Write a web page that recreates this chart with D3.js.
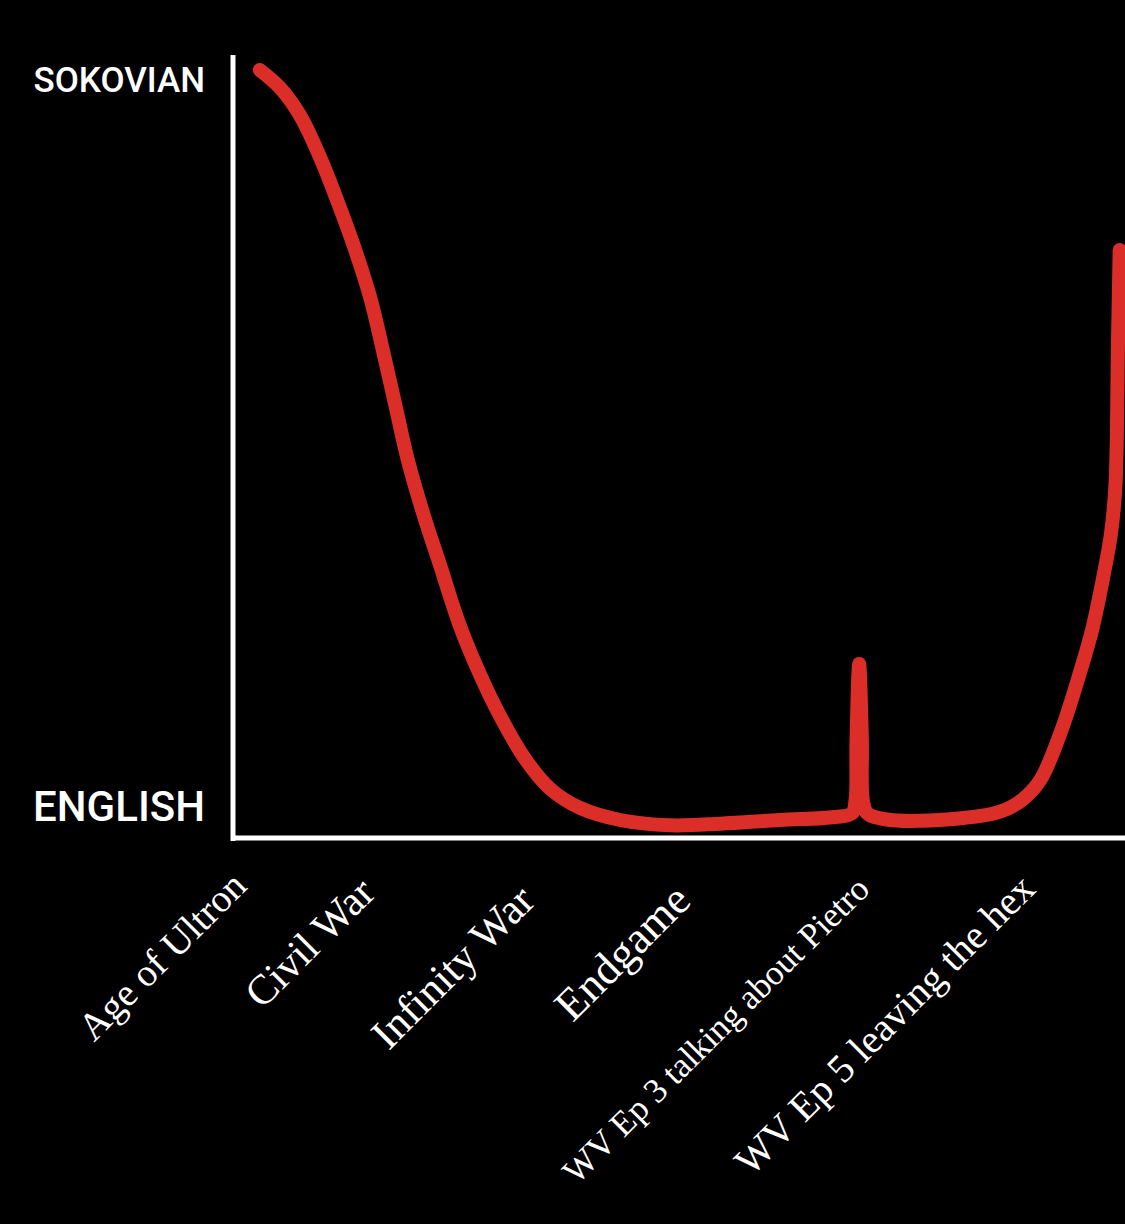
<!DOCTYPE html>
<html>
<head>
<meta charset="utf-8">
<script src="https://cdn.jsdelivr.net/npm/d3@7"></script>
<style>
  html, body { margin: 0; padding: 0; background: #000; }
  svg { display: block; }
</style>
</head>
<body>
<script>
const w = 1125
const h = 1224

// x labels and where they sit on the 0-100 timeline
const xLabels = ['Age of Ultron', 'Civil War', 'Infinity War', 'Endgame', 'WV Ep 3 talking about Pietro', 'WV Ep 5 leaving the hex']
const xLabelPos = [1.7, 16.1, 34.0, 51.5, 71.5, 90.1]

// y labels: 0 = English, 100 = Sokovian
const yLabels = ['ENGLISH', 'SOKOVIAN']
const yLabelPos = [0, 100]

// the hand drawn accent line
const accentX = [3.0, 5.3, 7.5, 9.8, 11.8, 13.7, 15.4, 16.8, 18.2, 19.6, 21.4, 23.2, 25.4, 27.7, 29.9, 32.7, 35.5, 38.9, 43.4, 49.0, 54.6, 61.3, 67.5, 69.4, 69.8, 69.9, 70.2, 70.5, 70.6, 71.1, 73.1, 80.4, 86.0, 88.5, 90.5, 92.9, 94.7, 96.3, 97.5, 98.4, 98.9, 99.1, 99.2, 99.4]
const accentY = [100, 97.6, 94.0, 88.3, 82.3, 76.1, 69.7, 62.8, 55.5, 48.2, 40.8, 34.3, 26.3, 19.7, 14.3, 8.6, 4.6, 2.0, 0.4, -0.3, -0.1, 0.4, 0.8, 1.3, 3.1, 11.0, 21.1, 11.0, 3.1, 1.3, 0.5, 0.5, 1.5, 3.1, 5.7, 12.4, 19.0, 25.6, 32.3, 38.2, 44.2, 52.2, 62.8, 76.1]

// label styling (hand lettered, so each one is a bit different)
const labelSize = [39, 42, 43, 45, 35, 40]
const labelShift = [0, 7, 15, 15, 3, 3]

const x = d3.scaleLinear().domain([0, 100]).range([233, 1125])
const y = d3.scaleLinear().domain([0, 100]).range([823, 70])

const svg = d3.select('body').append('svg')
    .attr('width', w)
    .attr('height', h)

svg.append('rect')
    .attr('width', w)
    .attr('height', h)
    .attr('fill', '#000')

// axis lines
svg.append('line')
    .attr('x1', 233).attr('x2', 233)
    .attr('y1', 55).attr('y2', 841)
    .attr('stroke', '#fff')
    .attr('stroke-width', 5)

svg.append('line')
    .attr('x1', 231).attr('x2', w)
    .attr('y1', 838).attr('y2', 838)
    .attr('stroke', '#fff')
    .attr('stroke-width', 5)

// y labels
const yAxis = d3.axisLeft(y)
    .tickValues(yLabelPos)
    .tickSize(0)
    .tickFormat(function (d, i) { return yLabels[i] })

const yg = svg.append('g')
    .attr('transform', 'translate(205,0)')
    .call(yAxis)

yg.select('.domain').remove()
yg.selectAll('text')
    .attr('x', 0)
    .attr('dy', function (d) { return d === 0 ? '-0.05em' : '0.62em' })
    .style('fill', '#fff')
    .style('font-family', 'Roboto, sans-serif')
    .style('font-weight', 500)
    .style('font-size', function (d) { return d === 0 ? '42px' : '35px' })

// x labels
const xAxis = d3.axisBottom(x)
    .tickValues(xLabelPos)
    .tickSize(0)
    .tickFormat(function (d, i) { return xLabels[i] })

const xg = svg.append('g')
    .attr('transform', 'translate(0,888)')
    .call(xAxis)

xg.select('.domain').remove()
xg.selectAll('text')
    .attr('y', 0)
    .attr('dy', 0)
    .attr('transform', function (d, i) { return 'translate(0,' + labelShift[i] + ') rotate(-45)' })
    .style('text-anchor', 'end')
    .style('fill', '#fff')
    .style('font-family', '"Liberation Serif", serif')
    .style('font-size', function (d, i) { return labelSize[i] + 'px' })

// the red line
const pts = accentX.map(function (d, i) { return [d, accentY[i]] })

const line = d3.line()
    .x(function (d) { return x(d[0]) })
    .y(function (d) { return y(d[1]) })
    .curve(d3.curveCatmullRom.alpha(0.5))

svg.append('path')
    .datum(pts)
    .attr('d', line)
    .attr('fill', 'none')
    .attr('stroke', '#dc2e29')
    .attr('stroke-width', 14)
    .attr('stroke-linecap', 'round')
    .attr('stroke-linejoin', 'round')
</script>
</body>
</html>
